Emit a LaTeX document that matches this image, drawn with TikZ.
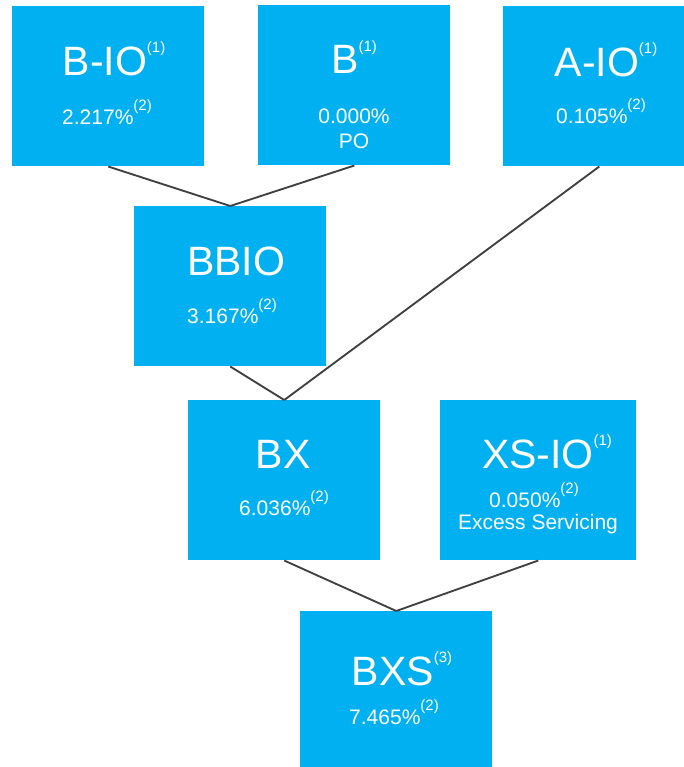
\documentclass[tikz,border=0pt]{standalone}
\usepackage{fontspec}
\setmainfont{Liberation Sans}
\definecolor{boxblue}{HTML}{00B0F0}
\definecolor{linkgray}{HTML}{404040}
\newcommand\bigsupx[1]{\raisebox{17pt}{\fontsize{11.25}{12}\selectfont(#1)}}
\newcommand\smallsupx[1]{\raisebox{10.5pt}{\fontsize{11.25}{12}\selectfont(#1)}}
\tikzset{
  box/.style={fill=boxblue, draw=none, inner sep=0pt, anchor=north west,
              minimum width=144pt, minimum height=120pt},
  ttl/.style={text=white, inner sep=0pt, anchor=base, font=\fontsize{30.75}{36}\selectfont},
  pct/.style={text=white, inner sep=0pt, anchor=base, font=\fontsize{15.75}{18}\selectfont},
  link/.style={draw=linkgray, line width=1.4pt}
}
\begin{document}
\begin{tikzpicture}[x=0.75pt,y=-0.75pt]
\useasboundingbox (0,0) rectangle (684,767);
% boxes
\node[box] (bio) at (12,6) {};
\node[box] (b) at (258,5) {};
\node[box] (aio) at (503,6) {};
\node[box] (bbio) at (134,206) {};
\node[box] (bx) at (188,400) {};
\node[box, minimum width=147pt] (xsio) at (440,400) {};
\node[box] (bxs) at (300,611) {};
% connectors
\draw[link] (bio.south) -- (bbio.north);
\draw[link] (b.south) -- (bbio.north);
\draw[link] (bbio.south) -- (bx.north);
\draw[link] (aio.south) -- (bx.north);
\draw[link] (bx.south) -- (bxs.north);
\draw[link] (xsio.south) -- (bxs.north);
% texts
\node[ttl] (bio-t) at (114,75) {B-IO\bigsupx{1}};
\node[pct] (bio-p) at (107,124) {2.217\%\smallsupx{2}};
\node[ttl] (b-t) at (354,74) {B\bigsupx{1}};
\node[pct] (b-p) at (354,123) {0.000\%};
\node[pct] (b-po) at (354,148) {PO};
\node[ttl] (aio-t) at (606,76) {A-IO\bigsupx{1}};
\node[pct] (aio-p) at (601,123) {0.105\%\smallsupx{2}};
\node[ttl] (bbio-t) at (236,275) {BBIO};
\node[pct] (bbio-p) at (232,323) {3.167\%\smallsupx{2}};
\node[ttl] (bx-t) at (283,468) {BX};
\node[pct] (bx-p) at (284,515) {6.036\%\smallsupx{2}};
\node[ttl] (xsio-t) at (547,468) {XS-IO\bigsupx{1}};
\node[pct] (xsio-p) at (534,507) {0.050\%\smallsupx{2}};
\node[pct] (xsio-e) at (538,529) {Excess Servicing};
\node[ttl] (bxs-t) at (402,685) {BXS\bigsupx{3}};
\node[pct] (bxs-p) at (394,724) {7.465\%\smallsupx{2}};
\end{tikzpicture}
\end{document}
